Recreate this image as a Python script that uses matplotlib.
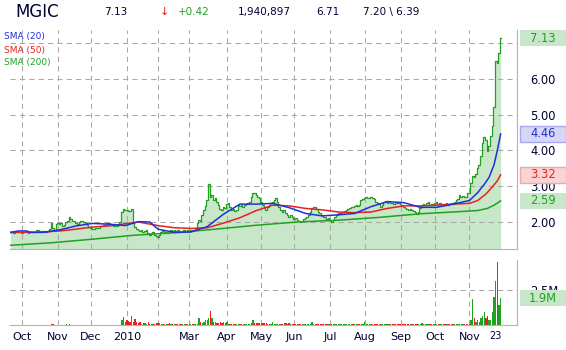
import numpy as np
import pandas as pd
import matplotlib
matplotlib.use('Agg')
import matplotlib.pyplot as plt
from matplotlib.patches import Rectangle

plt.rcParams['font.family'] = 'DejaVu Sans'

# trading days shown (NASDAQ holidays removed)
holidays = ['2009-11-26', '2009-12-25', '2010-01-01', '2010-01-18', '2010-02-15',
            '2010-04-02', '2010-05-31', '2010-07-05', '2010-09-06', '2010-11-25']
dates = pd.bdate_range('2009-09-22', '2010-11-29', freq='C', holidays=holidays)

# daily close
close = [
    1.71, 1.72, 1.70, 1.71, 1.73, 1.72, 1.71, 1.70, 1.71, 1.72, 1.71, 1.70, 1.72, 1.73, 1.72,
    1.72, 1.77, 1.77, 1.76, 1.74, 1.74, 1.74, 1.73, 1.74, 1.80,
    1.96, 1.82, 1.78, 1.94, 1.96, 1.94, 1.96, 1.90, 1.92, 2.01,
    2.03, 2.13, 2.07, 2.03, 2.03, 1.96, 1.94, 2.01, 2.03, 2.04,
    2.01, 1.96, 1.92, 1.87, 1.82, 1.80, 1.80, 1.82, 1.84, 1.82,
    1.89, 1.90, 1.91, 1.92, 1.96, 1.98, 1.94, 1.91, 1.89, 1.90,
    1.89, 1.91, 2.01, 2.29, 2.36, 2.34, 2.33, 2.31, 2.30, 2.36,
    1.96, 1.87, 1.80, 1.78, 1.75, 1.78, 1.73, 1.76, 1.78, 1.70,
    1.64, 1.68, 1.73, 1.64, 1.61, 1.57, 1.64, 1.73, 1.76, 1.70,
    1.73, 1.70, 1.73, 1.78, 1.76, 1.78, 1.75, 1.78, 1.76, 1.73,
    1.76, 1.78, 1.75, 1.78, 1.76, 1.78, 1.76, 1.78, 1.82, 1.96,
    2.06, 2.02, 2.20, 2.34, 2.45, 2.62, 3.06, 2.71, 2.76, 2.61,
    2.66, 2.57, 2.47, 2.35, 2.34, 2.43, 2.38, 2.50, 2.52, 2.43,
    2.34, 2.35, 2.32, 2.34, 2.47, 2.45, 2.47, 2.43, 2.47, 2.50,
    2.54, 2.57, 2.71, 2.82, 2.80, 2.75, 2.71, 2.66,
    2.57, 2.47, 2.38, 2.34, 2.43, 2.47, 2.52, 2.57, 2.61, 2.66,
    2.57, 2.43, 2.34, 2.29, 2.34, 2.24, 2.20, 2.15, 2.20, 2.13,
    2.07, 2.10, 2.06, 2.04, 2.01, 2.03, 2.07, 2.10, 2.13, 2.20,
    2.29, 2.38, 2.43, 2.41, 2.35, 2.29, 2.24, 2.20, 2.15, 2.13,
    2.07, 2.10, 2.06, 2.01, 2.06, 2.13, 2.20, 2.24, 2.26, 2.24,
    2.29, 2.32, 2.34, 2.35, 2.38, 2.43, 2.41, 2.45, 2.47, 2.45,
    2.47, 2.61, 2.63, 2.66, 2.69, 2.68, 2.66, 2.69, 2.66, 2.63,
    2.57, 2.52,
    2.52, 2.43, 2.47, 2.57, 2.60, 2.54, 2.57, 2.54, 2.52, 2.50,
    2.52, 2.54, 2.52, 2.50, 2.47, 2.41, 2.38, 2.35, 2.34, 2.35,
    2.34, 2.32, 2.29, 2.22, 2.29, 2.38, 2.47, 2.50, 2.47, 2.52,
    2.55, 2.47, 2.50, 2.47, 2.52, 2.57, 2.50, 2.52, 2.49, 2.50,
    2.47, 2.52, 2.47, 2.50, 2.52, 2.50, 2.57, 2.61, 2.63, 2.75,
    2.71, 2.73, 2.71, 2.69, 2.80,
    2.80, 3.08, 3.28, 3.25, 3.35, 3.50, 3.60, 3.85, 4.21, 4.38,
    4.30, 3.97, 4.11, 4.39, 4.67, 5.20, 6.50, 6.45, 6.71, 7.13,
]

# daily volume in millions
volume = [
    0.02, 0.02, 0.02, 0.02, 0.02, 0.02, 0.02, 0.02, 0.02, 0.02, 0.02, 0.02, 0.02, 0.02, 0.02, 0.02, 0.02, 0.02, 0.02, 0.02,
    0.02, 0.02, 0.02, 0.02, 0.02, 0.05, 0.05, 0.02, 0.02, 0.02, 0.02, 0.02, 0.02, 0.02, 0.04, 0.02, 0.04, 0.02, 0.02, 0.02,
    0.02, 0.02, 0.02, 0.02, 0.02, 0.02, 0.02, 0.02, 0.02, 0.02, 0.02, 0.02, 0.02, 0.02, 0.02, 0.02, 0.02, 0.02, 0.02, 0.02,
    0.02, 0.02, 0.02, 0.02, 0.02, 0.02, 0.02, 0.02, 0.35, 0.59, 0.19, 0.33, 0.28, 0.19, 0.66, 0.24, 0.40, 0.19, 0.14, 0.19,
    0.09, 0.14, 0.12, 0.09, 0.19, 0.09, 0.07, 0.07, 0.07, 0.12, 0.12, 0.12, 0.05, 0.05, 0.05, 0.05, 0.05, 0.12, 0.05, 0.05,
    0.05, 0.05, 0.05, 0.05, 0.05, 0.05, 0.05, 0.05, 0.05, 0.05, 0.09, 0.09, 0.07, 0.05, 0.05, 0.47, 0.24, 0.12, 0.19, 0.38,
    0.38, 0.52, 1.01, 0.52, 0.24, 0.19, 0.12, 0.14, 0.19, 0.12, 0.19, 0.12, 0.19, 0.07, 0.07, 0.07, 0.07, 0.07, 0.07, 0.07,
    0.07, 0.07, 0.07, 0.07, 0.07, 0.07, 0.07, 0.14, 0.38, 0.14, 0.12, 0.14, 0.12, 0.12, 0.12, 0.12, 0.12, 0.07, 0.07, 0.07,
    0.19, 0.07, 0.07, 0.07, 0.07, 0.07, 0.07, 0.12, 0.12, 0.09, 0.12, 0.07, 0.05, 0.05, 0.05, 0.05, 0.05, 0.05, 0.05, 0.05,
    0.05, 0.05, 0.05, 0.05, 0.24, 0.07, 0.07, 0.05, 0.05, 0.05, 0.05, 0.05, 0.05, 0.05, 0.07, 0.07, 0.07, 0.07, 0.05, 0.05,
    0.05, 0.05, 0.05, 0.05, 0.05, 0.05, 0.07, 0.07, 0.07, 0.07, 0.05, 0.05, 0.05, 0.05, 0.05, 0.05, 0.19, 0.07, 0.07, 0.07,
    0.07, 0.07, 0.05, 0.05, 0.05, 0.05, 0.05, 0.05, 0.07, 0.07, 0.07, 0.07, 0.05, 0.05, 0.05, 0.05, 0.05, 0.05, 0.07, 0.07,
    0.07, 0.07, 0.07, 0.07, 0.07, 0.07, 0.07, 0.07, 0.07, 0.07, 0.07, 0.12, 0.07, 0.07, 0.07, 0.07, 0.07, 0.07, 0.07, 0.07,
    0.07, 0.07, 0.07, 0.07, 0.05, 0.05, 0.07, 0.07, 0.09, 0.09, 0.09, 0.09, 0.07, 0.09, 0.09, 0.07, 0.07, 0.09, 0.09, 0.07,
    0.07, 0.35, 1.84, 0.47, 0.24, 0.33, 0.24, 0.47, 0.64, 0.90, 0.47, 0.61, 0.33, 0.33, 0.90, 2.00, 3.14, 4.50, 1.44, 1.91,
]

# moving averages, read at sample days (index into dates)
sma20_days = [0, 5, 10, 12, 20, 30, 40, 50, 60, 70, 78, 85, 90, 100, 110, 120, 130, 140, 150,
              160, 170, 180, 190, 200, 210, 220, 230, 240, 250, 260, 270, 280, 285, 289, 292,
              295, 297, 299]
sma20 = [1.71, 1.75, 1.75, 1.71, 1.71, 1.78, 1.89, 1.96, 1.94, 1.90, 2.01, 2.00, 1.80, 1.71,
         1.72, 1.87, 2.22, 2.50, 2.50, 2.52, 2.40, 2.24, 2.17, 2.20, 2.24, 2.43, 2.57, 2.54,
         2.41, 2.41, 2.50, 2.60, 2.82, 3.05, 3.25, 3.60, 4.00, 4.46]

sma50_days = [0, 20, 30, 40, 50, 60, 70, 78, 90, 100, 110, 120, 130, 140, 150, 160, 170,
              180, 190, 200, 210, 220, 230, 240, 250, 260, 270, 280, 285, 290, 294, 297, 299]
sma50 = [1.71, 1.72, 1.75, 1.80, 1.86, 1.89, 1.95, 2.00, 1.90, 1.84, 1.82, 1.84, 1.97, 2.12,
         2.32, 2.47, 2.45, 2.38, 2.34, 2.28, 2.26, 2.28, 2.38, 2.45, 2.45, 2.47, 2.50, 2.52,
         2.60, 2.78, 2.98, 3.15, 3.32]

sma200_days = [0, 25, 50, 75, 100, 125, 150, 175, 200, 225, 250, 270, 285, 291, 295, 299]
sma200 = [1.35, 1.42, 1.52, 1.63, 1.70, 1.80, 1.91, 2.00, 2.05, 2.13, 2.23, 2.28, 2.32,
          2.38, 2.47, 2.59]

price_ticks = [2, 3, 4, 5, 6, 7]
price_tick_labels = ['2.00', '3.00', '4.00', '5.00', '6.00', '']
month_labels = ['Oct', 'Nov', 'Dec', '2010', '', 'Mar', 'Apr', 'May', 'Jun', 'Jul',
                'Aug', 'Sep', 'Oct', 'Nov']

GREEN = '#22a022'
RED = '#e82020'
BLUE = '#2030d8'
FILL = '#c8e6c8'
GRID = '#a8a8a8'
NAVY = '#000033'

x = np.arange(len(dates))
month_pos = dates.searchsorted(pd.date_range('2009-10-01', '2010-11-01', freq='MS'))
last_label_pos = dates.get_loc(pd.Timestamp('2010-11-23'))

W, H = 566, 350
fig = plt.figure(figsize=(W / 100, H / 100), dpi=100)


def frame(l, t, r, b):
    return [l / W, 1 - b / H, (r - l) / W, (b - t) / H]


ax = fig.add_axes(frame(10, 30, 517, 249))
axv = fig.add_axes(frame(10, 260, 517, 325))

# price panel
ax.fill_between(x, close, 0, step='mid', color=FILL, lw=0, zorder=1)
ax.plot(x, close, drawstyle='steps-mid', color=GREEN, lw=0.9, zorder=3)
ax.plot(sma200_days, sma200, color=GREEN, lw=1.1, zorder=3)
ax.plot(sma50_days, sma50, color=RED, lw=1.1, zorder=3)
ax.plot(sma20_days, sma20, color=BLUE, lw=1.1, zorder=3)
ax.set_xlim(-0.3, 309)
ax.set_ylim(1.246, 7.363)

# volume panel
up = np.diff(np.r_[close[0], close]) >= 0
axv.bar(x, volume, width=0.8, color=np.where(up, GREEN, RED), lw=0, zorder=3)
axv.set_xlim(-0.3, 309)
axv.set_ylim(0, 4.64)

for a in (ax, axv):
    a.set_axisbelow('line')
    a.grid(True, which='major', ls=(0, (5, 4)), color=GRID, lw=0.75)
    a.yaxis.tick_right()
    a.tick_params(axis='y', length=0, pad=9.4, labelsize=8.3, labelcolor=NAVY)
    a.set_xticks(month_pos)
    for s in ('top', 'left'):
        a.spines[s].set_visible(False)
    for s in ('bottom', 'right'):
        a.spines[s].set_color('#b4b4b4')

ax.set_yticks(price_ticks, price_tick_labels)
ax.tick_params(axis='x', length=0, labelbottom=False)

axv.set_yticks([2.5], ['2.5M'])
axv.set_xticklabels(month_labels)
axv.tick_params(axis='x', which='major', length=0, pad=4.7, labelsize=8, labelcolor=NAVY)
axv.set_xticks([last_label_pos], ['23'], minor=True)
axv.tick_params(axis='x', which='minor', length=0, pad=4, labelsize=7, labelcolor=NAVY)


def tag(a, value, text, fg, bg, edge='none'):
    yd = a.transData.transform((0, value))[1] / fig.bbox.height
    fig.add_artist(Rectangle((520 / W, yd - 8 / H), 46 / W, 16 / H, transform=fig.transFigure,
                             fc=bg, ec=edge, lw=1, zorder=4))
    fig.text(543 / W, yd, text, ha='center', va='center', color=fg, fontsize=8.3, zorder=5)


tag(ax, close[-1], '%.2f' % close[-1], GREEN, '#c8e6c8')
tag(ax, sma20[-1], '%.2f' % sma20[-1], BLUE, '#d6d6f6', '#a8a8f0')
tag(ax, sma50[-1], '%.2f' % sma50[-1], RED, '#f8d4d4', '#f2a8a8')
tag(ax, sma200[-1], '%.2f' % sma200[-1], GREEN, '#c8e6c8')
tag(axv, volume[-1], '%.1fM' % volume[-1], GREEN, '#c8e6c8')

# legend
fig.text(4 / W, 1 - 36.7 / H, 'SMA (20)', color=BLUE, fontsize=6.5, va='center')
fig.text(4 / W, 1 - 50 / H, 'SMA (50)', color=RED, fontsize=6.5, va='center')
fig.text(4 / W, 1 - 62.7 / H, 'SMA (200)', color=GREEN, fontsize=6.5, va='center')

# header line
hy = 1 - 11.7 / H
fig.text(15 / W, hy, 'MGIC', fontsize=12, color=NAVY, va='center')
fig.text(104 / W, hy, '%.2f' % close[-1], fontsize=7.5, color=NAVY, va='center')
fig.text(160 / W, hy, '\u2193', fontsize=8, color=RED, va='center')
fig.text(178 / W, hy, '+%.2f' % (close[-1] - close[-2]), fontsize=7.5, color=GREEN, va='center')
fig.text(238 / W, hy, '1,940,897', fontsize=7.5, color=NAVY, va='center')
fig.text(316 / W, hy, '%.2f' % close[-2], fontsize=7.5, color=NAVY, va='center')
fig.text(363 / W, hy, '7.20 \\ 6.39', fontsize=7.5, color=NAVY, va='center')

fig.savefig('out.png', dpi=100)
